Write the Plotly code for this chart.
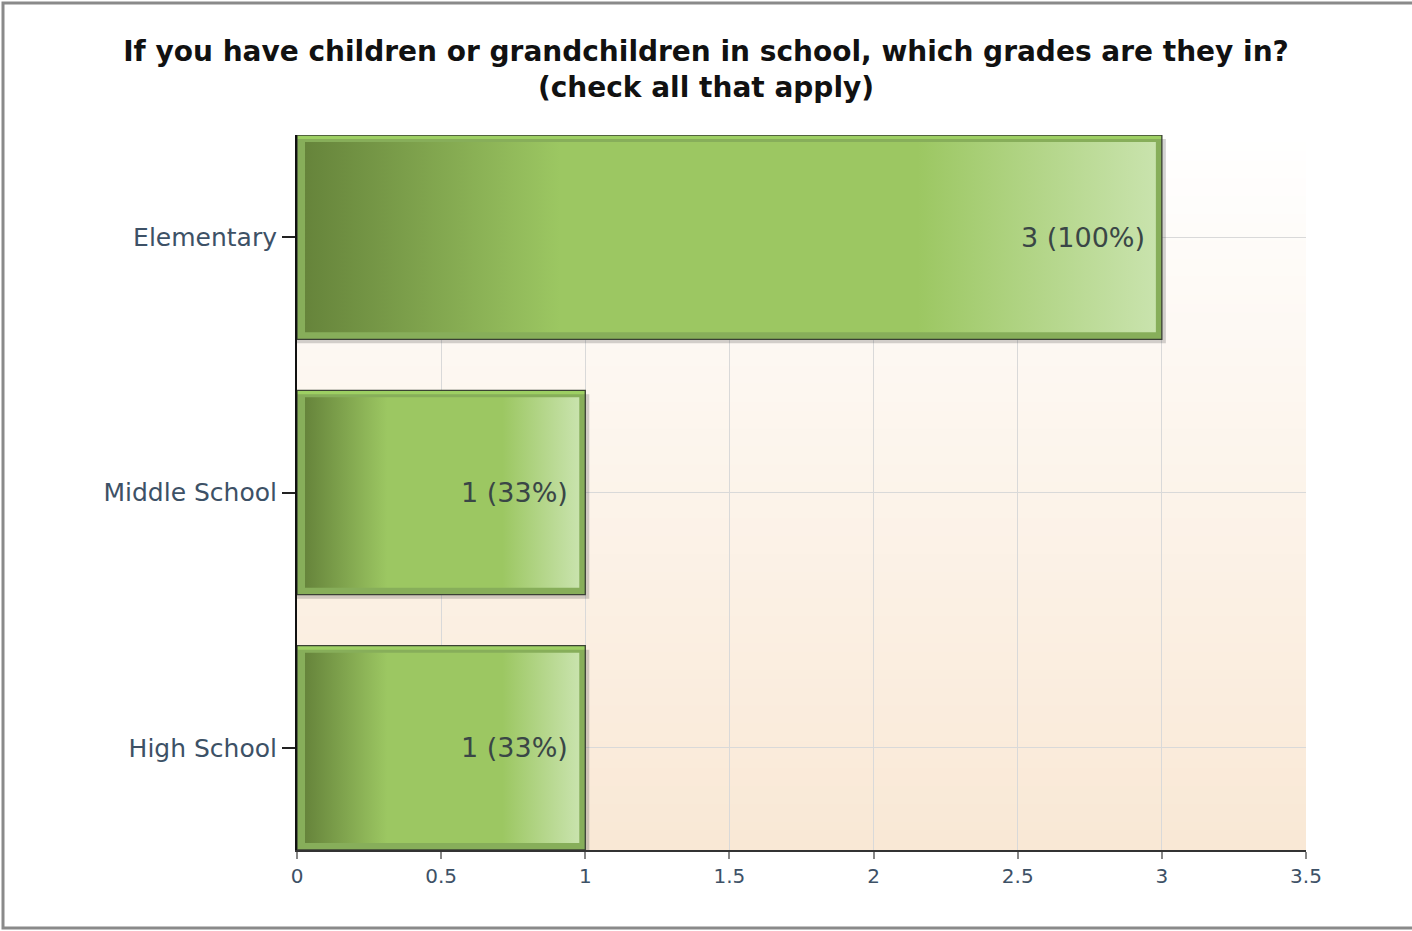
import plotly.graph_objects as go

# data
categories = ['Elementary', 'Middle School', 'High School']
counts = [3, 1, 1]
percents = ['100%', '33%', '33%']
x_ticks = [0, 0.5, 1, 1.5, 2, 2.5, 3, 3.5]

W, H = 1412, 931
M = dict(l=297, r=106, t=135, b=81)
PW = W - M['l'] - M['r']
PH = H - M['t'] - M['b']
X_MAX = 3.5
Y_PAD = 0.4
Y_SPAN = len(categories) - 1 + 2 * Y_PAD
BAR_W = 0.8

# pixel -> data helpers
dx = lambda px: px * X_MAX / PW
dy = lambda px: px * Y_SPAN / PH

GRAD = [[0, '#66843b'], [0.3, '#9cc762'], [0.72, '#9cc762'], [1, '#c9e3ad']]

fig = go.Figure()

# drop shadows
for i, v in enumerate(counts):
    h = BAR_W / 2
    x0, x1 = 0, v + dx(4)
    y0, y1 = i - h + dy(4), i + h + dy(4)
    fig.add_trace(go.Scatter(x=[x0, x1, x1, x0, x0], y=[y0, y0, y1, y1, y0],
                             fill='toself', fillcolor='rgba(60,60,60,0.22)',
                             line=dict(width=0), mode='lines', hoverinfo='skip',
                             showlegend=False))

# bar frames
fig.add_trace(go.Bar(
    x=counts, y=list(range(len(categories))), orientation='h', width=BAR_W,
    marker=dict(color='#9dcf63', line=dict(color='#3a4232', width=1.3)),
    showlegend=False, hoverinfo='skip'))

# gradient fill inside each bar
for i, v in enumerate(counts):
    h = BAR_W / 2
    x0, x1 = dx(8), v - dx(6)
    y0, y1 = i - h + dy(7), i + h - dy(7)
    fig.add_trace(go.Scatter(
        x=[x0, x1, x1, x0, x0], y=[y0, y0, y1, y1, y0],
        fill='toself', fillgradient=dict(type='horizontal', colorscale=GRAD),
        line=dict(width=0), mode='lines', hoverinfo='skip', showlegend=False))
    fig.add_annotation(x=v, y=i, text=f'{v} ({percents[i]})', showarrow=False,
                       xanchor='right', xshift=-15,
                       font=dict(family='DejaVu Sans', size=27, color='#3a4646'))

# background gradient (stripes below gridlines)
N = 80
top, bot = (255, 255, 255), (249, 232, 213)
for k in range(N):
    t = (k + 0.5) / N
    c = tuple(round(top[j] + (bot[j] - top[j]) * t) for j in range(3))
    fig.add_shape(type='rect', xref='paper', yref='paper', layer='below',
                  x0=0, x1=1, y0=1 - (k + 1) / N, y1=1 - k / N + 0.002,
                  fillcolor='rgb(%d,%d,%d)' % c, line=dict(width=0))

# outer border
fig.add_shape(type='rect', xref='paper', yref='paper', layer='above',
              x0=-(M['l'] - 3) / PW, x1=(W - M['l'] + 5) / PW,
              y0=-(M['b'] - 3) / PH, y1=1 + (M['t'] - 3) / PH,
              line=dict(color='#8a8a8a', width=3))

fig.update_layout(
    width=W, height=H, margin=M,
    paper_bgcolor='white', plot_bgcolor='white',
    title=dict(text='If you have children or grandchildren in school, which grades are they in?<br>(check all that apply)',
               x=0.5, xref='container', xanchor='center', y=0.935, yanchor='top',
               font=dict(family='DejaVu Sans', size=28, color='#111111', weight='bold')),
    xaxis=dict(range=[0, X_MAX], tickvals=x_ticks, ticktext=[f'{t:g}' for t in x_ticks],
               showgrid=True, gridcolor='#d9d9d9', gridwidth=1.2,
               showline=True, linecolor='#333333', linewidth=2,
               ticks='outside', ticklen=7, tickcolor='#888888', tickwidth=2,
               tickfont=dict(family='DejaVu Sans', size=20, color='#3d5166'),
               zeroline=False, fixedrange=True),
    yaxis=dict(range=[len(categories) - 1 + Y_PAD, -Y_PAD],
               tickvals=list(range(len(categories))), ticktext=categories,
               showgrid=True, gridcolor='#d9d9d9', gridwidth=1.2,
               showline=True, linecolor='#111111', linewidth=2,
               ticks='outside', ticklen=13, tickcolor='#222222', tickwidth=2,
               tickfont=dict(family='DejaVu Sans', size=25, color='#3d5166'),
               zeroline=False, fixedrange=True),
)

fig.write_html("out.html", config={'displayModeBar': False},
               post_script="document.body.style.margin='0';")
